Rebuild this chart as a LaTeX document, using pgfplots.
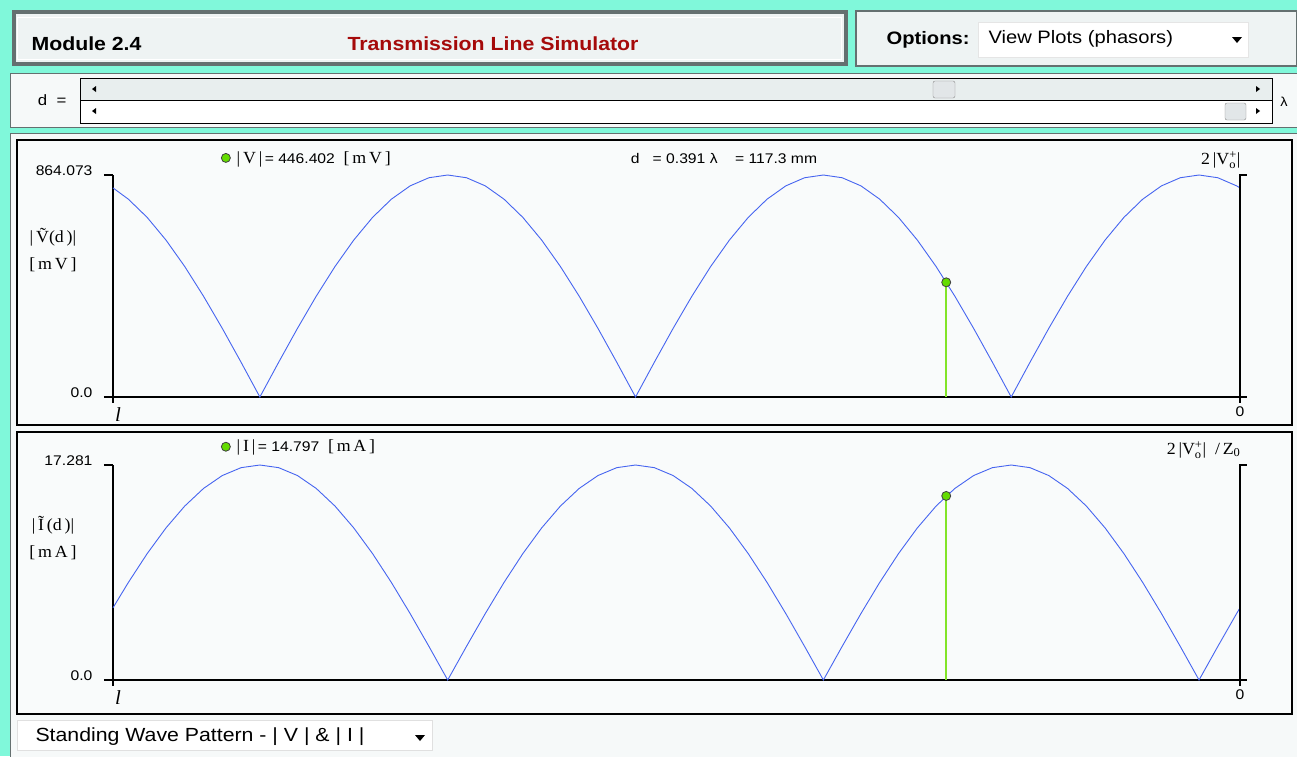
\documentclass[border=0pt]{standalone}
\usepackage{pgfplots}
\pgfplotsset{compat=1.18}
\usepackage{pgfplotstable}
\usepackage{amsmath}
\usepackage{fontspec}
\setmainfont[FakeStretch=1.12]{Liberation Sans}
\newfontfamily\serif[FakeStretch=1.05]{Liberation Serif}
\newcommand\fs[1]{\fontsize{#1}{#1}\selectfont}

\definecolor{teal0}{RGB}{128,248,218}
\definecolor{boxgray}{RGB}{238,243,243}
\definecolor{bordergray}{RGB}{100,112,112}
\definecolor{panel}{RGB}{246,249,249}
\definecolor{plotbg}{RGB}{249,251,251}
\definecolor{slidergray}{RGB}{232,238,238}
\definecolor{thumb}{RGB}{226,230,232}
\definecolor{titlered}{RGB}{165,10,10}
\definecolor{curveblue}{RGB}{70,100,240}
\definecolor{lime}{RGB}{130,228,40}
\definecolor{markgreen}{RGB}{100,220,0}

% standing wave along the line, d in wavelengths from the load
\pgfplotstableread{
d       V       I
0.0000  813.90  5.803
0.0045  821.79  5.340
0.0295  853.44  2.703
0.0545  864.07  0
0.0795  853.44  2.703
0.1045  821.79  5.340
0.1295  769.90  7.845
0.1545  699.05  10.158
0.1795  611.00  12.220
0.2045  507.89  13.981
0.2295  392.28  15.398
0.2545  267.02  16.435
0.2795  135.17  17.068
0.3045  0       17.281
0.3295  135.17  17.068
0.3545  267.02  16.435
0.3795  392.28  15.398
0.4045  507.89  13.981
0.4295  611.00  12.220
0.4545  699.05  10.158
0.4795  769.90  7.845
0.5045  821.79  5.340
0.5295  853.44  2.703
0.5545  864.07  0
0.5795  853.44  2.703
0.6045  821.79  5.340
0.6295  769.90  7.845
0.6545  699.05  10.158
0.6795  611.00  12.220
0.7045  507.89  13.981
0.7295  392.28  15.398
0.7545  267.02  16.435
0.7795  135.17  17.068
0.8045  0       17.281
0.8295  135.17  17.068
0.8545  267.02  16.435
0.8795  392.28  15.398
0.9045  507.89  13.981
0.9295  611.00  12.220
0.9545  699.05  10.158
0.9795  769.90  7.845
1.0045  821.79  5.340
1.0295  853.44  2.703
1.0545  864.07  0
1.0795  853.44  2.703
1.1045  821.79  5.340
1.1295  769.90  7.845
1.1545  699.05  10.158
1.1795  611.00  12.220
1.2045  507.89  13.981
1.2295  392.28  15.398
1.2545  267.02  16.435
1.2795  135.17  17.068
1.3045  0       17.281
1.3295  135.17  17.068
1.3545  267.02  16.435
1.3795  392.28  15.398
1.4045  507.89  13.981
1.4295  611.00  12.220
1.4545  699.05  10.158
1.4795  769.90  7.845
1.5000  813.90  5.803
}\tldata

\tikzset{tlframe/.style={line width=1.2pt, black}}
\pgfplotsset{
  tlaxis/.style={
    scale only axis, width=1127pt,
    x dir=reverse, xmin=0, xmax=1.5, ymin=0,
    enlargelimits=false, clip=false,
    axis x line*=bottom, axis y line*=left,
    axis line style={-, line width=1.2pt, black},
    tick align=outside, major tick length=9pt,
    tick style={line width=1.2pt, black},
    xtick={1.5,0}, xtick style={draw=none},
    xticklabels={{\hspace*{10pt}\serif\itshape\fs{20}l},{\raisebox{-4pt}{\fs{14}0}}},
    xticklabel style={anchor=north, inner sep=1pt},
    yticklabel style={font=\fs{14}, yshift=4pt, xshift=-8pt},
    /pgf/number format/assume math mode=true,
    legend style={draw=none, fill=none, font=\fs{14}, inner sep=0pt},
    every axis y label/.style={at={(axis description cs:0,0.664)}, xshift=-60pt,
      anchor=center, align=center, font=\serif\fs{17}},
  },
}

\begin{document}
\begin{tikzpicture}[x=1pt,y=-1pt]
\useasboundingbox (0,0) rectangle (1297,756);
\fill[teal0] (0,0) rectangle (1297,756);

% header
\fill[boxgray] (12,10) rectangle (848,66);
\draw[bordergray, line width=4pt] (14,12) rectangle (846,64);
\draw[white, line width=1pt] (17,17) rectangle (841,59);
\node[anchor=west, font=\bfseries\fs{19}] at (28,44) {Module 2.4};
\node[font=\bfseries\fs{19}, text=titlered] at (493,44) {Transmission Line Simulator};

\filldraw[fill=boxgray, draw=bordergray, line width=1.5pt] (856,11) rectangle (1297,66);
\node[anchor=east, font=\bfseries\fs{18}] at (973,40) {Options:};
\filldraw[fill=white, draw=black!10] (978,22) rectangle (1248,57);
\node[anchor=west, font=\fs{18}] at (985,39) {View Plots (phasors)};
\fill (1232,37) -- (1242,37) -- (1237,43) -- cycle;

% slider row
\filldraw[fill=panel, draw=bordergray, line width=1pt] (10,73) rectangle (1297,127);
\node[anchor=east, font=\fs{15}] at (70,100) {d\ \ =};
\fill[slidergray] (80,78) rectangle (1272,100);
\fill[white] (80,100) rectangle (1272,123);
\draw[black, line width=1pt] (80,78) rectangle (1272,123) (80,100) -- (1272,100);
\fill (92,89) -- (96,86) -- (96,92) -- cycle;
\fill (92,111) -- (96,108) -- (96,114) -- cycle;
\fill (1260,89) -- (1256,86) -- (1256,92) -- cycle;
\fill (1260,111) -- (1256,108) -- (1256,114) -- cycle;
\filldraw[fill=thumb, draw=black!45, rounded corners=2pt] (933,81) rectangle (955,98);
\filldraw[fill=thumb, draw=black!45, rounded corners=2pt] (1225,103) rectangle (1246,120);
\node[font=\fs{13}] at (1284,102) {λ};

% plot panel
\filldraw[fill=panel, draw=bordergray, line width=1pt] (10,133) rectangle (1297,760);
\filldraw[fill=plotbg, draw=black, line width=2pt] (17,140) rectangle (1292,425);
\filldraw[fill=plotbg, draw=black, line width=2pt] (17,432) rectangle (1292,714);

\coordinate (vorigin) at (113,397);
\coordinate (iorigin) at (113,680);

% voltage
\begin{axis}[tlaxis, at={(vorigin)}, anchor=south west, height=222pt,
  ymax=864.073, ytick={0,864.073}, yticklabels={0.0,864.073},
  ylabel={|\,\~{V}(d\,)|\\[10pt][\,m\,V\,]},
  legend style={at={(0.096,1.077)}, anchor=west}]
\addplot[curveblue, line width=0.9pt, forget plot] table[x=d, y=V] {\tldata};
\addplot[lime, line width=1.6pt, forget plot] coordinates {(0.391,0) (0.391,446.402)};
\addplot[only marks, mark=*, mark size=4.5pt,
  mark options={fill=markgreen, draw=black!75, line width=0.8pt}]
  coordinates {(0.391,446.402)};
\addlegendentry{\ {\serif\fs{17}|\,V\,|}\,= 446.402\ \ {\serif\fs{17}[\,m\,V\,]}}
\draw[tlframe] (axis description cs:1,0) -- ++(7pt,0);
\draw[tlframe] (axis description cs:1,0) -- (axis description cs:1,1) -- ++(7pt,0);
\draw[tlframe] (axis description cs:0,0) -- ++(0,-6pt);
\draw[tlframe] (axis description cs:1,0) -- ++(0,-6pt);
\end{axis}

% current
\begin{axis}[tlaxis, at={(iorigin)}, anchor=south west, height=215pt,
  ymax=17.281, ytick={0,17.281}, yticklabels={0.0,17.281},
  ylabel={|\,\~{I}\,(d\,)|\\[10pt][\,m\,A\,]},
  every axis y label/.append style={at={(axis description cs:0,0.66)}},
  legend style={at={(0.096,1.085)}, anchor=west}]
\addplot[curveblue, line width=0.9pt, forget plot] table[x=d, y=I] {\tldata};
\addplot[lime, line width=1.6pt, forget plot] coordinates {(0.391,0) (0.391,14.797)};
\addplot[only marks, mark=*, mark size=4.5pt,
  mark options={fill=markgreen, draw=black!75, line width=0.8pt}]
  coordinates {(0.391,14.797)};
\addlegendentry{\ {\serif\fs{17}|\,I\,|}\,= 14.797\ \ {\serif\fs{17}[\,m\,A\,]}}
\draw[tlframe] (axis description cs:1,0) -- ++(7pt,0);
\draw[tlframe] (axis description cs:1,0) -- (axis description cs:1,1) -- ++(7pt,0);
\draw[tlframe] (axis description cs:0,0) -- ++(0,-6pt);
\draw[tlframe] (axis description cs:1,0) -- ++(0,-6pt);
\end{axis}

% plot annotations
\node[font=\fs{14}] at (724,158) {d\ \ \ = 0.391 λ\ \ \ \ = 117.3 mm};
\node[anchor=east, font=\serif\fs{17}] at (1244,160) {2\,|V$^{\text{+}}_{\text{o}}$|};
\node[anchor=east, font=\serif\fs{17}] at (1244,450) {2\,|V$^{\text{+}}_{\text{o}}$|\ \ /\,Z$_{\text{0}}$};

% bottom selector
\filldraw[fill=white, draw=black!12] (17,720) rectangle (432,750);
\node[anchor=west, font=\fs{19}] at (32,737) {Standing Wave Pattern - | V | \& | I |};
\fill (415,735) -- (425,735) -- (420,741) -- cycle;
\end{tikzpicture}
\end{document}
